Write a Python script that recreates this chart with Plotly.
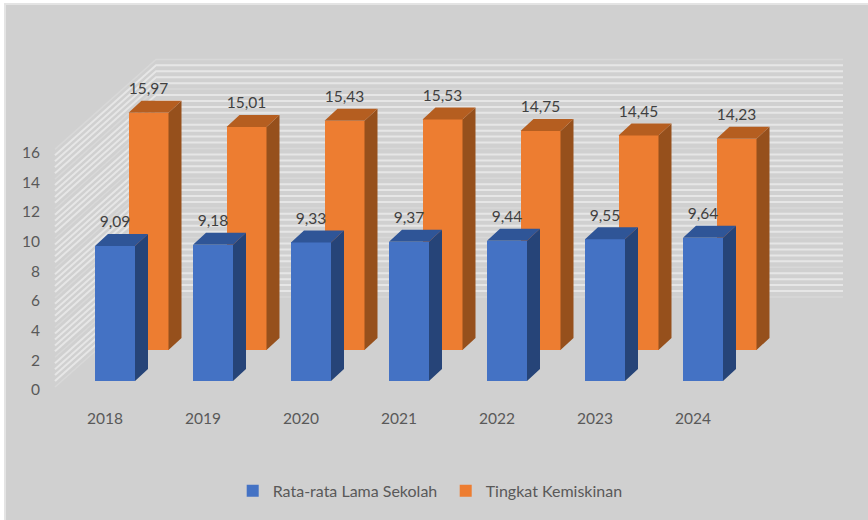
import plotly.graph_objects as go

# ---- data ----
years = ["2018", "2019", "2020", "2021", "2022", "2023", "2024"]
rata_rata = [9.09, 9.18, 9.33, 9.37, 9.44, 9.55, 9.64]
kemiskinan = [15.97, 15.01, 15.43, 15.53, 14.75, 14.45, 14.23]
y_ticks = [0, 2, 4, 6, 8, 10, 12, 14, 16]
series_names = ["Rata-rata Lama Sekolah", "Tingkat Kemiskinan"]

# ---- scale and projection ----
W, H = 868, 520
L, T = 6, 5
STEP = 98.0            # px per category
UNIT = 14.85           # px per value unit
X0, Y0 = 115.0, 381.0  # px of first blue bar centre, value 0
dx = lambda px: px / STEP
dy = lambda px: px / UNIT

BAR_W = dx(40)
SIDE_X, SIDE_Y = dx(13), dy(12)
ROW_X, ROW_Y = dx(33.5), dy(31)

FONT = "Lato, sans-serif"
AXIS_C = "#595959"
LABEL_C = "#404040"
NUM_SIZE = 15.5


def faces(xs, bases, vals):
    sx, sy, tx, ty = [], [], [], []
    for x, b, v in zip(xs, bases, vals):
        r, l, t = x + BAR_W / 2, x - BAR_W / 2, b + v
        sx += [r, r + SIDE_X, r + SIDE_X, r, r, None]
        sy += [b, b + SIDE_Y, t + SIDE_Y, t, b, None]
        tx += [l, r, r + SIDE_X, l + SIDE_X, l, None]
        ty += [t, t, t + SIDE_Y, t + SIDE_Y, t, None]
    return sx, sy, tx, ty


idx = list(range(len(years)))
xo = [i + ROW_X for i in idx]
bo = [ROW_Y] * len(years)
bb = [0.0] * len(years)

fig = go.Figure()
fig.add_trace(go.Bar(x=xo, y=kemiskinan, base=bo, width=BAR_W, name=series_names[1],
                     marker=dict(color="#ed7d31", line_width=0), hoverinfo="skip"))
fig.add_trace(go.Bar(x=idx, y=rata_rata, base=bb, width=BAR_W, name=series_names[0],
                     marker=dict(color="#4472c4", line_width=0), hoverinfo="skip"))

for xs, bases, vals, side_c, top_c in [
    (xo, bo, kemiskinan, "#96501c", "#b55e20"),
    (idx, bb, rata_rata, "#264478", "#2f5597"),
]:
    sx, sy, tx, ty = faces(xs, bases, vals)
    for fx, fy, c in [(sx, sy, side_c), (tx, ty, top_c)]:
        fig.add_trace(go.Scatter(x=fx, y=fy, mode="lines", fill="toself", fillcolor=c,
                                 line=dict(width=0, color=c), showlegend=False, hoverinfo="skip"))

# value labels
LBL = dy(22.5)
fmt = lambda v: f"{v:.2f}".replace(".", ",")
fig.add_trace(go.Scatter(x=xo, y=[b + v + LBL for b, v in zip(bo, kemiskinan)], mode="text",
                         text=[fmt(v) for v in kemiskinan], textposition="middle center",
                         textfont=dict(family=FONT, size=NUM_SIZE, color=LABEL_C),
                         showlegend=False, hoverinfo="skip"))
fig.add_trace(go.Scatter(x=idx, y=[v + LBL for v in rata_rata], mode="text",
                         text=[fmt(v) for v in rata_rata], textposition="middle center",
                         textfont=dict(family=FONT, size=NUM_SIZE, color=LABEL_C),
                         showlegend=False, hoverinfo="skip"))

# carrier for the shifted label axes
fig.add_trace(go.Scatter(x=[0], y=[0], mode="none", xaxis="x2", yaxis="y2",
                         showlegend=False, hoverinfo="skip"))

# wall grid: side wall then back wall
WALL_X0 = dx(55 - X0)
WALL_Y0 = dy(Y0 - 387)
CORNER_X = dx(156 - X0)
CORNER_Y = dy(Y0 - 297)
WALL_X1 = dx(843 - X0)
shapes = []
for k in range(0, 41):
    v = k * 0.4
    major = k % 5 == 0
    shapes.append(dict(
        type="path", xref="x", yref="y", layer="below",
        path=f"M {WALL_X0} {WALL_Y0 + v} L {CORNER_X} {CORNER_Y + v} L {WALL_X1} {CORNER_Y + v}",
        line=dict(color="#d8d8d8" if major else "#e6e6e6", width=1.5 if major else 2),
    ))

fig.update_layout(
    width=W, height=H, autosize=False,
    margin=dict(l=L, r=0, t=T, b=0, pad=0),
    paper_bgcolor="#ffffff", plot_bgcolor="#d0d0d0",
    barmode="overlay", bargap=0, shapes=shapes,
    font=dict(family=FONT, size=NUM_SIZE, color=AXIS_C),
    xaxis=dict(range=[(L - X0) / STEP, (W - X0) / STEP], showgrid=False, zeroline=False,
               showticklabels=False, ticks="", side="top", showline=True,
               linecolor="#e4e4e4", linewidth=2),
    yaxis=dict(range=[(Y0 - H) / UNIT, (Y0 - T) / UNIT], showgrid=False, zeroline=False,
               showticklabels=False, ticks="", showline=True, linecolor="#e4e4e4", linewidth=2),
    xaxis2=dict(overlaying="x", anchor="free", position=(H - 407) / (H - T),
                range=[(L - 105) / STEP, (W - 105) / STEP], side="bottom",
                tickmode="array", tickvals=idx, ticktext=years, ticks="", ticklen=0,
                showgrid=False, zeroline=False, showline=False,
                tickfont=dict(family=FONT, size=NUM_SIZE, color=AXIS_C)),
    yaxis2=dict(overlaying="y", anchor="free", position=(40 - L) / (W - L),
                range=[(390 - H) / UNIT, (390 - T) / UNIT], side="left",
                tickmode="array", tickvals=y_ticks, ticks="", ticklen=0,
                showgrid=False, zeroline=False, showline=False,
                tickfont=dict(family=FONT, size=NUM_SIZE, color=AXIS_C)),
    legend=dict(orientation="h", traceorder="reversed", x=0.263, y=0.0565, xanchor="left", yanchor="middle",
                bgcolor="rgba(0,0,0,0)", font=dict(family=FONT, size=16, color=AXIS_C),
                itemwidth=30, entrywidth=168, entrywidthmode="pixels"),
    showlegend=True,
)

fig.write_html("out.html", config={"displayModeBar": False},
               post_script="document.body.style.margin='0';document.body.style.overflow='hidden';")
